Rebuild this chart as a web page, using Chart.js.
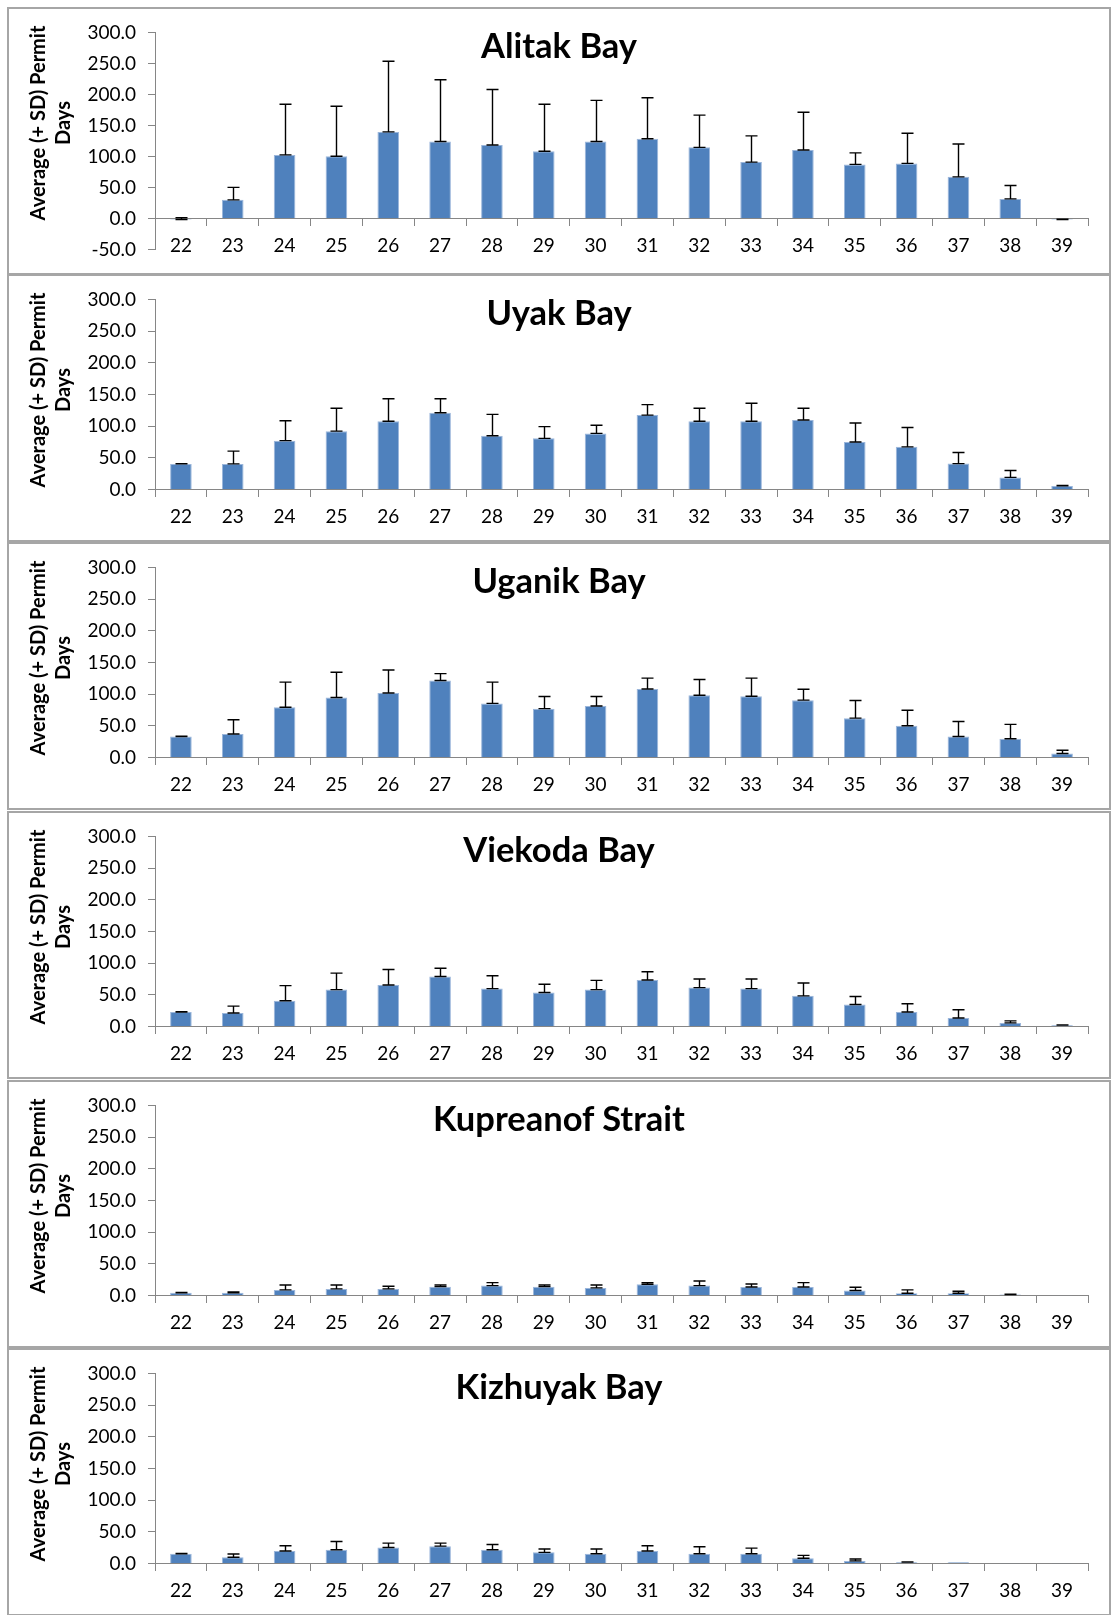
<!DOCTYPE html>
<html>
<head>
<meta charset="utf-8">
<script src="https://cdn.jsdelivr.net/npm/chart.js@4.4.0/dist/chart.umd.min.js"></script>
<style>
html,body{margin:0;padding:0;background:#fff;}
body{width:1112px;height:1615px;position:relative;overflow:hidden;font-family:Lato,"Open Sans",sans-serif;}
.panel{position:absolute;left:7px;width:1104px;height:268px;box-sizing:border-box;border:2px solid #a6a6a6;background:#fff;}
.panel canvas{position:absolute;left:0;top:0;}
.ttl{position:absolute;left:0;width:1100px;text-align:center;font-family:Lato,sans-serif;font-weight:bold;font-size:34.5px;line-height:34px;color:#000;top:19px;white-space:nowrap;}
.ytl{position:absolute;left:41px;top:114px;width:240px;transform:translate(-50%,-50%) rotate(-90deg);text-align:center;font-family:Lato,sans-serif;font-weight:bold;font-size:20px;line-height:25px;color:#000;white-space:nowrap;}
</style>
</head>
<body>
<script>
// ---- data ----
const weeks = ['22','23','24','25','26','27','28','29','30','31','32','33','34','35','36','37','38','39'];
const panelTitles = ['Alitak Bay','Uyak Bay','Uganik Bay','Viekoda Bay','Kupreanof Strait','Kizhuyak Bay'];
const yAxisTitle = ['Average (+ SD) Permit','Days'];
const yMinValues = [-50, 0, 0, 0, 0, 0];
const yMaxValue = 300;
const yStep = 50;

const alitakMean = [-1.5, 30.2, 102.6, 100.5, 139.7, 124.3, 118.5, 108.5, 124.3, 128.6, 114.8, 91.0, 110.6, 87.3, 88.9, 67.2, 31.7, -1.5];
const alitakSD   = [3.0, 20.1, 81.5, 80.5, 113.7, 99.5, 89.4, 75.6, 66.2, 66.1, 51.9, 42.3, 60.8, 18.5, 48.7, 52.9, 21.7, 0.3];

const uyakMean = [40.4, 40.4, 77.1, 92.1, 107.6, 121.1, 84.8, 80.7, 88.5, 117.4, 107.6, 107.6, 109.7, 75.0, 67.3, 40.9, 19.1, 5.7];
const uyakSD   = [0.5, 20.1, 31.5, 36.2, 35.7, 22.2, 33.7, 18.6, 12.9, 16.6, 20.7, 28.4, 18.6, 30.0, 30.5, 17.6, 10.9, 0.5];

const uganikMean = [33.1, 37.2, 79.2, 94.7, 101.9, 121.6, 85.4, 77.1, 81.2, 108.1, 98.3, 96.7, 90.5, 62.1, 50.2, 33.1, 29.5, 6.2];
const uganikSD   = [0.5, 22.3, 39.8, 39.8, 36.2, 10.8, 33.6, 19.1, 15.0, 17.1, 24.8, 28.5, 17.1, 27.9, 24.3, 23.8, 22.7, 5.2];

const viekodaMean = [22.9, 21.3, 40.6, 58.2, 65.5, 79.0, 59.8, 53.6, 58.2, 73.3, 61.4, 59.8, 48.4, 34.8, 22.9, 13.5, 5.7, 2.1];
const viekodaSD   = [0.5, 10.9, 23.9, 26.0, 24.5, 13.0, 20.3, 13.0, 14.6, 13.0, 13.5, 15.1, 20.2, 12.5, 13.0, 13.0, 3.1, 0.5];

const kupreanofMean = [4.2, 4.2, 8.8, 10.4, 10.4, 14.0, 15.6, 14.0, 12.0, 17.7, 15.6, 13.5, 13.5, 7.8, 3.6, 3.6, 1.6, 0.5];
const kupreanofSD   = [0.5, 1.5, 7.8, 6.2, 4.2, 2.6, 4.7, 2.6, 4.6, 2.6, 7.3, 4.7, 6.8, 5.2, 5.2, 3.2, 0.5, 0];

const kizhuyakMean = [15.5, 9.8, 19.7, 21.7, 25.3, 27.4, 21.7, 17.6, 15.5, 19.7, 15.5, 15.5, 8.3, 4.1, 2.1, 2.1, 0.3, 0.2];
const kizhuyakSD   = [0.5, 5.2, 8.2, 13.0, 6.8, 4.7, 8.3, 5.2, 7.3, 8.2, 10.9, 8.8, 4.6, 3.1, 0.5, 0, 0, 0];

const meansList = [alitakMean, uyakMean, uganikMean, viekodaMean, kupreanofMean, kizhuyakMean];
const sdList = [alitakSD, uyakSD, uganikSD, viekodaSD, kupreanofSD, kizhuyakSD];

// ---- layout ----
const panelTops = [7, 274, 542, 811, 1080, 1348];
const padTop = [20, 20.7, 20.7, 20.7, 20.7, 20.7];
const padBottom = [23, 50.5, 50.5, 50.5, 50.5, 50.5];
const AXIS_GRAY = '#868686';

const errorBarPlugin = {
  id: 'errorBars',
  afterDatasetsDraw(chart, args, opts) {
    const ctx = chart.ctx;
    const xs = chart.scales.x, ys = chart.scales.y;
    const vals = chart.data.datasets[0].data;
    const sd = opts.sd || [];
    ctx.save();
    ctx.strokeStyle = '#000';
    ctx.lineWidth = 1.4;
    vals.forEach((v, i) => {
      const s = sd[i];
      if (!(s > 0)) return;
      const px = Math.round(xs.getPixelForValue(i)) + 0.5;
      const y0 = ys.getPixelForValue(v);
      const y1 = ys.getPixelForValue(v + s);
      const hw = 6;
      ctx.beginPath();
      ctx.moveTo(px, y0); ctx.lineTo(px, y1);
      ctx.moveTo(px - hw, y0); ctx.lineTo(px + hw, y0);
      ctx.moveTo(px - hw, y1); ctx.lineTo(px + hw, y1);
      ctx.stroke();
    });
    ctx.restore();
  }
};

for (let p = 0; p < 6; p++) {
  const div = document.createElement('div');
  div.className = 'panel';
  div.style.top = panelTops[p] + 'px';
  const cv = document.createElement('canvas');
  cv.width = 1100; cv.height = 264;
  cv.style.width = '1100px'; cv.style.height = '264px';
  div.appendChild(cv);
  const t = document.createElement('div');
  t.className = 'ttl';
  t.textContent = panelTitles[p];
  div.appendChild(t);
  const yt = document.createElement('div');
  yt.className = 'ytl';
  yt.innerHTML = yAxisTitle[0] + '<br>' + yAxisTitle[1];
  div.appendChild(yt);
  document.body.appendChild(div);

  new Chart(cv, {
    type: 'bar',
    data: {
      labels: weeks,
      datasets: [{
        data: meansList[p],
        backgroundColor: '#4F81BD',
        borderColor: '#9bb6db',
        borderWidth: 1,
        categoryPercentage: 1.0,
        barPercentage: 0.417
      }]
    },
    options: {
      responsive: false,
      animation: false,
      events: [],
      layout: { padding: { left: 0, right: 21, top: padTop[p], bottom: padBottom[p] } },
      plugins: {
        legend: { display: false },
        title: { display: false },
        tooltip: { enabled: false },
        errorBars: { sd: sdList[p] }
      },
      scales: {
        x: {
          position: { y: 0 },
          afterFit: (s) => { s.height = 0; },
          grid: { drawOnChartArea: false, drawTicks: true, tickLength: 7, color: AXIS_GRAY, offset: true },
          border: { display: true, color: AXIS_GRAY, width: 1 },
          ticks: { color: '#000', font: { family: 'Lato', size: 19 }, padding: 9, maxRotation: 0, autoSkip: false }
        },
        y: {
          min: yMinValues[p],
          max: yMaxValue,
          afterFit: (s) => { s.width = 146; },
          grid: { drawOnChartArea: false, drawTicks: true, tickLength: 7, color: AXIS_GRAY },
          border: { display: true, color: AXIS_GRAY, width: 1 },
          ticks: { stepSize: yStep, color: '#000', font: { family: 'Lato', size: 19 }, padding: 12,
                   callback: (v) => Number(v).toFixed(1) }
        }
      }
    },
    plugins: [errorBarPlugin]
  });
}
</script>
</body>
</html>
